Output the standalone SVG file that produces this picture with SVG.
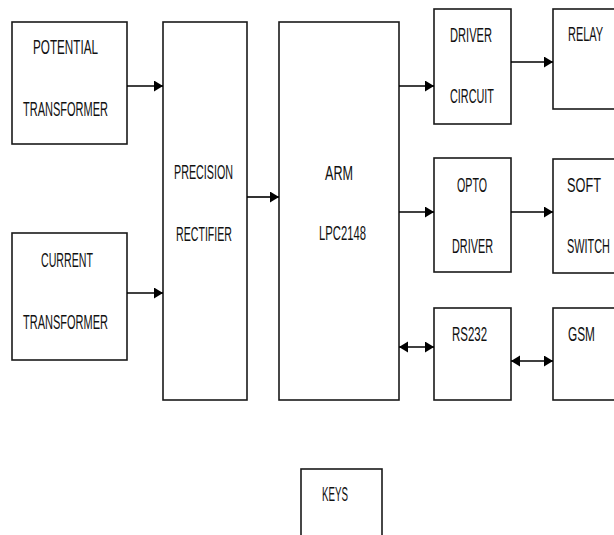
<svg xmlns="http://www.w3.org/2000/svg" width="614" height="535" viewBox="0 0 614 535">
<style>
.box{fill:#fff;stroke:#1a1a1a;stroke-width:1.6}
.t{font-family:"Liberation Sans",Arial,sans-serif;font-size:20.5px;fill:#111}
.c{stroke:#000;stroke-width:1.6;fill:none}
</style>
<defs>
<marker id="ah" markerUnits="userSpaceOnUse" markerWidth="10" markerHeight="12" refX="9" refY="5.5" orient="auto-start-reverse">
<path d="M0,0 L9,5.5 L0,11 Z" fill="#000"/>
</marker>
</defs>
<rect width="614" height="535" fill="#fff"/>
<g id="pt"><rect class="box" x="12" y="22" width="115" height="122"/>
<text class="t" x="33" y="54" textLength="65" lengthAdjust="spacingAndGlyphs">POTENTIAL</text>
<text class="t" x="23" y="116" textLength="85" lengthAdjust="spacingAndGlyphs">TRANSFORMER</text></g>
<g id="ct"><rect class="box" x="12" y="233" width="115" height="127"/>
<text class="t" x="41" y="267" textLength="52" lengthAdjust="spacingAndGlyphs">CURRENT</text>
<text class="t" x="23" y="329" textLength="85" lengthAdjust="spacingAndGlyphs">TRANSFORMER</text></g>
<g id="pr"><rect class="box" x="163" y="22" width="84" height="378"/>
<text class="t" x="174" y="179" textLength="59" lengthAdjust="spacingAndGlyphs">PRECISION</text>
<text class="t" x="176" y="241" textLength="56" lengthAdjust="spacingAndGlyphs">RECTIFIER</text></g>
<g id="arm"><rect class="box" x="279" y="22" width="120" height="378"/>
<text class="t" x="325" y="180" textLength="28" lengthAdjust="spacingAndGlyphs">ARM</text>
<text class="t" x="319" y="240" textLength="47" lengthAdjust="spacingAndGlyphs">LPC2148</text></g>
<g id="driver"><rect class="box" x="434" y="9" width="77" height="115"/>
<text class="t" x="450" y="42" textLength="42" lengthAdjust="spacingAndGlyphs">DRIVER</text>
<text class="t" x="450" y="103" textLength="44" lengthAdjust="spacingAndGlyphs">CIRCUIT</text></g>
<g id="relay"><rect class="box" x="553" y="9" width="70" height="100"/>
<text class="t" transform="translate(568,41) scale(0.536,1)">RELAY</text></g>
<g id="opto"><rect class="box" x="434" y="158" width="77" height="114"/>
<text class="t" x="457" y="192" textLength="30" lengthAdjust="spacingAndGlyphs">OPTO</text>
<text class="t" x="452" y="253" textLength="41" lengthAdjust="spacingAndGlyphs">DRIVER</text></g>
<g id="soft"><rect class="box" x="553" y="159" width="70" height="114"/>
<text class="t" transform="translate(567,192) scale(0.622,1)">SOFT</text>
<text class="t" transform="translate(567,253) scale(0.532,1)">SWITCH</text></g>
<g id="rs232"><rect class="box" x="434" y="308" width="77" height="92"/>
<text class="t" x="452" y="341" textLength="35" lengthAdjust="spacingAndGlyphs">RS232</text></g>
<g id="gsm"><rect class="box" x="553" y="308" width="70" height="92"/>
<text class="t" x="568" y="341" textLength="27" lengthAdjust="spacingAndGlyphs">GSM</text></g>
<g id="keys"><rect class="box" x="301" y="469" width="81" height="80"/>
<text class="t" x="322" y="501" textLength="26" lengthAdjust="spacingAndGlyphs">KEYS</text></g>
<g id="connectors">
<line class="c" x1="127" y1="86" x2="163" y2="86" marker-end="url(#ah)"/>
<line class="c" x1="127" y1="293" x2="163" y2="293" marker-end="url(#ah)"/>
<line class="c" x1="247" y1="197" x2="279" y2="197" marker-end="url(#ah)"/>
<line class="c" x1="399" y1="86" x2="434" y2="86" marker-end="url(#ah)"/>
<line class="c" x1="511" y1="62" x2="553" y2="62" marker-end="url(#ah)"/>
<line class="c" x1="399" y1="212" x2="434" y2="212" marker-end="url(#ah)"/>
<line class="c" x1="511" y1="212" x2="553" y2="212" marker-end="url(#ah)"/>
<line class="c" x1="399" y1="347" x2="434" y2="347" marker-start="url(#ah)" marker-end="url(#ah)"/>
<line class="c" x1="511" y1="361" x2="553" y2="361" marker-start="url(#ah)" marker-end="url(#ah)"/>
</g>
</svg>
